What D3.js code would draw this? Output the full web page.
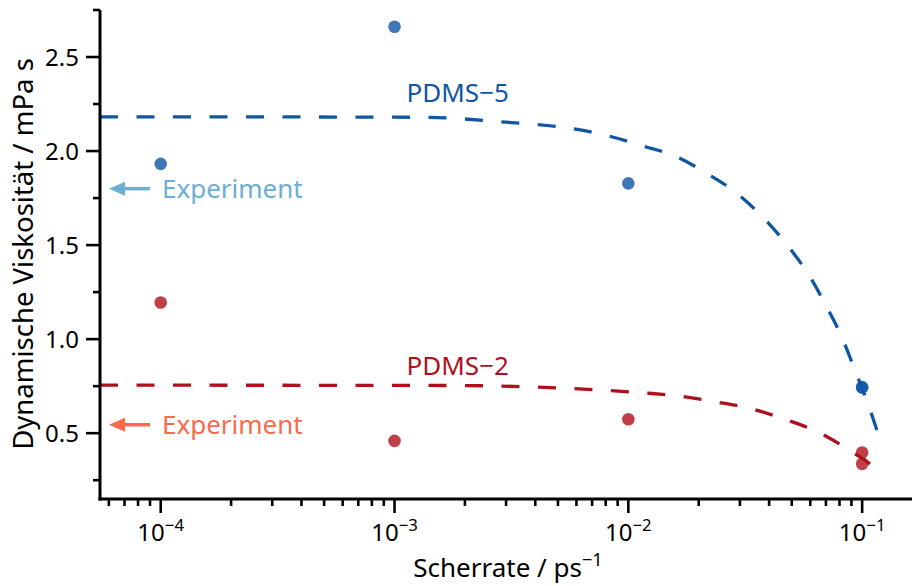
<!DOCTYPE html>
<html>
<head>
<meta charset="utf-8">
<script src="https://cdn.jsdelivr.net/npm/d3@7"></script>
<style>
  html, body { margin: 0; padding: 0; background: #fff; }
  svg { display: block; font-family: "Noto Sans", sans-serif; }
</style>
</head>
<body>
<svg id="chart" width="912" height="586"></svg>
<script>
// Measured viscosities (mPa s) at the simulated shear rates (1/ps)
const pdms5Rates = [1e-4, 1e-3, 1e-2, 1e-1, 1e-1];
const pdms5Viscosity = [1.932, 2.661, 1.828, 0.745, 0.742];
const pdms2Rates = [1e-4, 1e-3, 1e-2, 1e-1, 1e-1];
const pdms2Viscosity = [1.195, 0.459, 0.574, 0.397, 0.337];

// Fitted shear-thinning curves, sampled along the shear-rate axis
const pdms5FitRates = [5.5e-5, 1e-4, 1e-3, 1.39e-3, 2.83e-3, 5.75e-3, 8.13e-3, 1.148e-2, 1.607e-2,
  2.18e-2, 2.93e-2, 3.78e-2, 4.80e-2, 5.90e-2, 7.05e-2, 8.24e-2, 9.38e-2, 0.1067, 0.1211];
const pdms5FitViscosity = [2.182, 2.182, 2.180, 2.179, 2.156, 2.119, 2.082, 2.028, 1.970,
  1.879, 1.773, 1.645, 1.497, 1.343, 1.172, 1.002, 0.826, 0.645, 0.438];
const pdms2FitRates = [5.5e-5, 1e-4, 1e-3, 1.99e-3, 4.04e-3, 8.20e-3, 1.172e-2, 1.671e-2, 2.38e-2,
  3.37e-2, 4.75e-2, 6.58e-2, 8.89e-2, 0.1153, 0.1205];
const pdms2FitViscosity = [0.755, 0.755, 0.754, 0.753, 0.745, 0.727, 0.714, 0.697, 0.666,
  0.629, 0.571, 0.502, 0.406, 0.305, 0.280];

// Axis ticks
const yMajorTicks = [0.5, 1.0, 1.5, 2.0, 2.5];
const yMinorTicks = [0.25, 0.75, 1.25, 1.75, 2.25, 2.75];
const xMajorTicks = [1e-4, 1e-3, 1e-2, 1e-1];
const xMajorExponents = ["−4", "−3", "−2", "−1"];

// Annotations: experimental reference viscosities and series names
const experimentLabels = ["Experiment", "Experiment"];
const experimentValues = [1.80, 0.545];
const seriesNames = ["PDMS−5", "PDMS−2"];
const seriesLabelValues = [2.261, 0.809];
const seriesLabelRates = [1.126e-3, 1.126e-3];

const colors = {
  pdms5Line: "#0f56a4",
  pdms2Line: "#b0101c",
  expBlue: "#6baed6",
  expRed: "#fb6a4a"
};

const svg = d3.select("#chart");
const tickFont = 24;
const labelFont = 26;
const yTitleFont = 27.5;

const x = d3.scaleLog().domain([5.5e-5, 0.165]).range([100, 913]);
const y = d3.scaleLinear().domain([0.15, 2.75]).range([499, 10]);

// Minor ticks for log axis: 2..9 of each decade inside the domain
const xMinorTicks = [];
for (let e = -5; e <= -1; e++) {
  for (let m = 2; m <= 9; m++) {
    const v = m * Math.pow(10, e);
    if (v >= x.domain()[0] && v <= x.domain()[1]) xMinorTicks.push(v);
  }
}

// ---- Fit curves ----
const line = d3.line()
  .x(d => x(d[0]))
  .y(d => y(d[1]))
  .curve(d3.curveMonotoneX);

function drawFit(rates, vals, color) {
  svg.append("path")
    .datum(rates.map((r, i) => [r, vals[i]]))
    .attr("d", line)
    .attr("fill", "none")
    .attr("stroke", color)
    .attr("stroke-width", 3.3)
    .attr("stroke-dasharray", "18 18.5");
}
drawFit(pdms5FitRates, pdms5FitViscosity, colors.pdms5Line);
drawFit(pdms2FitRates, pdms2FitViscosity, colors.pdms2Line);

// ---- Data points ----
function drawPoints(rates, vals, color) {
  svg.append("g").selectAll("circle")
    .data(rates.map((r, i) => [r, vals[i]]))
    .join("circle")
    .attr("cx", d => x(d[0]))
    .attr("cy", d => y(d[1]))
    .attr("r", 6.3)
    .attr("fill", color)
    .attr("fill-opacity", 0.8);
}
drawPoints(pdms5Rates, pdms5Viscosity, colors.pdms5Line);
drawPoints(pdms2Rates, pdms2Viscosity, colors.pdms2Line);

// ---- Axes ----
const axes = svg.append("g").attr("stroke", "#000").attr("stroke-linecap", "butt");
axes.append("line")
  .attr("x1", x.range()[0]).attr("x2", x.range()[0])
  .attr("y1", y.range()[1]).attr("y2", y.range()[0] + 1.5)
  .attr("stroke-width", 3);
axes.append("line")
  .attr("x1", x.range()[0] - 1.5).attr("x2", 912)
  .attr("y1", y.range()[0]).attr("y2", y.range()[0])
  .attr("stroke-width", 3);

// y ticks
axes.selectAll(".ymaj").data(yMajorTicks).join("line")
  .attr("class", "ymaj")
  .attr("x1", 100).attr("x2", 86)
  .attr("y1", d => y(d)).attr("y2", d => y(d))
  .attr("stroke-width", 2.6);
axes.selectAll(".ymin").data(yMinorTicks).join("line")
  .attr("class", "ymin")
  .attr("x1", 100).attr("x2", 93)
  .attr("y1", d => y(d)).attr("y2", d => y(d))
  .attr("stroke-width", 2.6);

// x ticks
axes.selectAll(".xmaj").data(xMajorTicks).join("line")
  .attr("class", "xmaj")
  .attr("x1", d => x(d)).attr("x2", d => x(d))
  .attr("y1", 499).attr("y2", 513)
  .attr("stroke-width", 2.6);
axes.selectAll(".xmin").data(xMinorTicks).join("line")
  .attr("class", "xmin")
  .attr("x1", d => x(d)).attr("x2", d => x(d))
  .attr("y1", 499).attr("y2", 506)
  .attr("stroke-width", 2.6);

// y tick labels
svg.append("g").selectAll("text").data(yMajorTicks).join("text")
  .attr("x", 79)
  .attr("y", d => y(d))
  .attr("dy", "0.36em")
  .attr("text-anchor", "end")
  .attr("font-size", tickFont)
  .attr("fill", "#000")
  .text(d => d3.format(".1f")(d));

// x tick labels: 10 with superscript exponent
const xl = svg.append("g").selectAll("text").data(xMajorTicks).join("text")
  .attr("x", d => x(d))
  .attr("y", 541)
  .attr("text-anchor", "middle")
  .attr("font-size", tickFont)
  .attr("fill", "#000");
xl.append("tspan").text("10");
xl.append("tspan")
  .attr("font-size", tickFont * 0.7)
  .attr("dy", -10)
  .text((d, i) => xMajorExponents[i]);

// Axis titles
svg.append("text")
  .attr("transform", "translate(33,254) rotate(-90)")
  .attr("text-anchor", "middle")
  .attr("font-size", yTitleFont)
  .attr("fill", "#000")
  .text("Dynamische Viskosität / mPa s");

const xt = svg.append("text")
  .attr("x", 508).attr("y", 577)
  .attr("text-anchor", "middle")
  .attr("font-size", labelFont)
  .attr("fill", "#000");
xt.append("tspan").text("Scherrate / ps");
xt.append("tspan").attr("font-size", labelFont * 0.7).attr("dy", -11).text("−1");

// ---- Experiment arrows ----
const expColors = [colors.expBlue, colors.expRed];
experimentValues.forEach((v, i) => {
  const yy = y(v);
  const c = expColors[i];
  svg.append("line")
    .attr("x1", 150).attr("x2", 120)
    .attr("y1", yy).attr("y2", yy)
    .attr("stroke", c).attr("stroke-width", 3.5);
  svg.append("path")
    .attr("d", `M109,${yy} L125,${yy - 7} L125,${yy + 7} Z`)
    .attr("fill", c);
  svg.append("text")
    .attr("x", 162).attr("y", yy)
    .attr("dy", "0.36em")
    .attr("font-size", labelFont)
    .attr("fill", c)
    .text(experimentLabels[i]);
});

// ---- Series names ----
const nameColors = [colors.pdms5Line, colors.pdms2Line];
seriesNames.forEach((n, i) => {
  svg.append("text")
    .attr("x", x(seriesLabelRates[i]))
    .attr("y", y(seriesLabelValues[i]))
    .attr("font-size", labelFont)
    .attr("fill", nameColors[i])
    .text(n);
});
</script>
</body>
</html>
